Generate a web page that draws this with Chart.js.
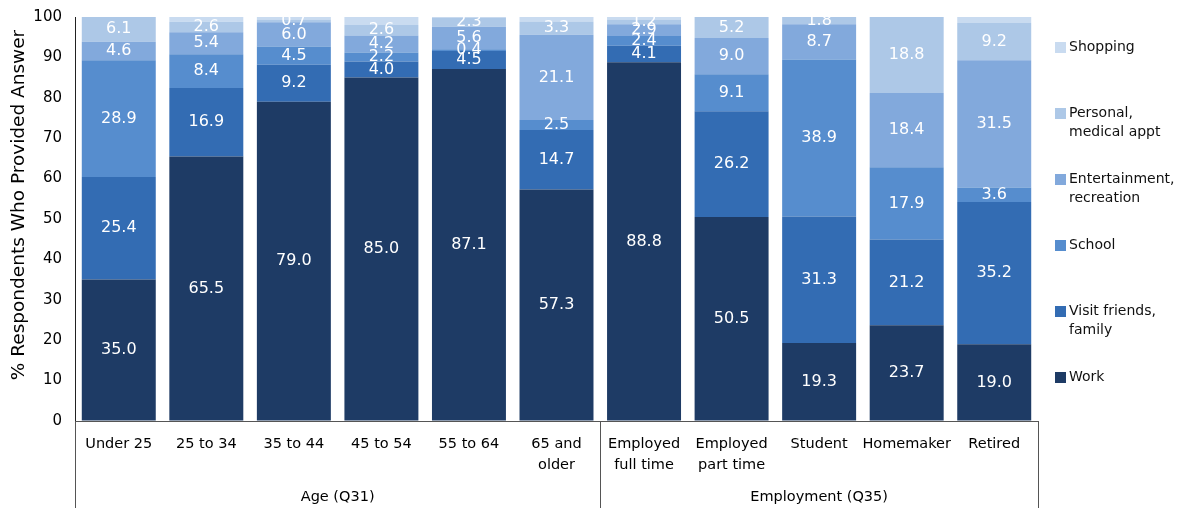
<!DOCTYPE html>
<html>
<head>
<meta charset="utf-8">
<script src="https://cdn.jsdelivr.net/npm/chart.js@4.4.1/dist/chart.umd.min.js"></script>
<style>
  html, body { margin: 0; padding: 0; background: #fff; }
  #wrap { width: 1185px; height: 508px; position: relative; }
</style>
</head>
<body>
<div id="wrap"><canvas id="chart"></canvas></div>
<script>
// categories (multi-line tick labels)
const categories = [
  ['Under 25'], ['25 to 34'], ['35 to 44'], ['45 to 54'], ['55 to 64'], ['65 and', 'older'],
  ['Employed', 'full time'], ['Employed', 'part time'], ['Student'], ['Homemaker'], ['Retired']
];
const groups = ['Age (Q31)', 'Employment (Q35)'];
const groupSizes = [6, 5];

// series, bottom to top
const work          = [35.0, 65.5, 79.0, 85.0, 87.1, 57.3, 88.8, 50.5, 19.3, 23.7, 19.0];
const visit         = [25.4, 16.9,  9.2,  4.0,  4.5, 14.7,  4.1, 26.2, 31.3, 21.2, 35.2];
const school        = [28.9,  8.4,  4.5,  2.2,  0.4,  2.5,  2.4,  9.1, 38.9, 17.9,  3.6];
const entertainment = [ 4.6,  5.4,  6.0,  4.2,  5.6, 21.1,  2.9,  9.0,  8.7, 18.4, 31.5];
const personal      = [ 6.1,  2.6,  0.7,  2.6,  2.3,  3.3,  1.2,  5.2,  1.8, 18.8,  9.2];
const shopping      = [ 0.0,  1.2,  0.6,  2.0,  0.1,  1.1,  0.6,  0.0,  0.0,  0.0,  1.5];

const seriesNames = ['Work', 'Visit friends, family', 'School', 'Entertainment, recreation', 'Personal, medical appt', 'Shopping'];
const legendLines = [['Work'], ['Visit friends,', 'family'], ['School'], ['Entertainment,', 'recreation'], ['Personal,', 'medical appt'], ['Shopping']];
const yTicks = [0, 10, 20, 30, 40, 50, 60, 70, 80, 90, 100];
const yTitle = '% Respondents Who Provided Answer';

const colors = ['#1e3b65', '#336cb3', '#568dce', '#82a9dc', '#adc8e7', '#c9dbf0'];
const seriesData = [work, visit, school, entertainment, personal, shopping];
const FONT = "'DejaVu Sans', sans-serif";

// white value labels inside the segments (shopping not labelled)
const valueLabels = {
  id: 'valueLabels',
  afterDatasetsDraw(chart) {
    const ctx = chart.ctx, area = chart.chartArea;
    ctx.save();
    ctx.beginPath();
    ctx.rect(area.left, area.top, area.right - area.left, area.bottom - area.top);
    ctx.clip();
    ctx.font = '16px ' + FONT;
    ctx.fillStyle = '#ffffff';
    ctx.textAlign = 'center';
    ctx.textBaseline = 'middle';
    chart.data.datasets.forEach((ds, i) => {
      if (i === 5) return;
      chart.getDatasetMeta(i).data.forEach((bar, j) => {
        const v = ds.data[j];
        if (!v) return;
        ctx.fillText(v.toFixed(1), bar.x, (bar.y + bar.base) / 2);
      });
    });
    ctx.restore();
  }
};

// group brackets under the axis, y title and custom legend
const extras = {
  id: 'extras',
  afterDraw(chart) {
    const ctx = chart.ctx, area = chart.chartArea, x = chart.scales.x;
    const h = chart.height;
    ctx.save();
    ctx.strokeStyle = '#555';
    ctx.lineWidth = 1;
    let start = 0;
    const edges = [area.left];
    groups.forEach((g, k) => {
      const end = start + groupSizes[k] - 1;
      const right = end === categories.length - 1 ? area.right
        : (x.getPixelForValue(end) + x.getPixelForValue(end + 1)) / 2;
      edges.push(right);
      ctx.font = '14.5px ' + FONT;
      ctx.fillStyle = '#000';
      ctx.textAlign = 'center';
      ctx.textBaseline = 'middle';
      ctx.fillText(g, (edges[k] + right) / 2, 497);
      start = end + 1;
    });
    edges.forEach(e => {
      const px = Math.round(e) + 0.5;
      ctx.beginPath();
      ctx.moveTo(px, area.bottom);
      ctx.lineTo(px, h);
      ctx.stroke();
    });

    // rotated y title
    ctx.save();
    ctx.translate(19, 205);
    ctx.rotate(-Math.PI / 2);
    ctx.font = '18.5px ' + FONT;
    ctx.fillStyle = '#000';
    ctx.textAlign = 'center';
    ctx.textBaseline = 'middle';
    ctx.fillText(yTitle, 0, 0);
    ctx.restore();

    // legend, top entry = top of stack
    const lx = area.right + 17;
    let ly = area.top + 30;
    ctx.font = '14px ' + FONT;
    ctx.textAlign = 'left';
    ctx.textBaseline = 'middle';
    for (let i = 5; i >= 0; i--) {
      ctx.fillStyle = colors[i];
      ctx.fillRect(lx, ly - 5, 11, 11);
      ctx.fillStyle = '#111';
      legendLines[i].forEach((t, n) => ctx.fillText(t, lx + 14, ly + n * 19));
      ly += 66;
    }
    ctx.restore();
  }
};

new Chart(document.getElementById('chart'), {
  type: 'bar',
  data: {
    labels: categories,
    datasets: seriesData.map((d, i) => ({
      label: seriesNames[i],
      data: d,
      backgroundColor: colors[i],
      borderWidth: 0,
      barPercentage: 0.845,
      categoryPercentage: 1.0
    }))
  },
  options: {
    responsive: true,
    maintainAspectRatio: false,
    animation: false,
    layout: { padding: { top: 17, right: 147, left: 0, bottom: 0 } },
    plugins: {
      legend: { display: false },
      tooltip: { enabled: false }
    },
    scales: {
      x: {
        stacked: true,
        grid: { display: false, drawTicks: false },
        border: { display: true, color: '#555', width: 1 },
        ticks: {
          color: '#000',
          font: { family: FONT, size: 14.5, lineHeight: 1.5 },
          padding: 12,
          maxRotation: 0,
          autoSkip: false
        },
        afterFit(scale) { scale.height = 87; }
      },
      y: {
        stacked: true,
        min: 0,
        max: 100,
        afterBuildTicks(scale) { scale.ticks = yTicks.map(v => ({ value: v })); },
        // invisible tick marks keep the labels off the axis without extra top padding
        grid: {
          display: true,
          drawOnChartArea: false,
          drawTicks: true,
          tickLength: 9,
          color: 'rgba(0,0,0,0)',
          tickColor: 'rgba(0,0,0,0)'
        },
        border: { display: true, color: '#222', width: 1 },
        ticks: {
          color: '#000',
          font: { family: FONT, size: 15 },
          padding: 4
        },
        afterFit(scale) { scale.width = 75; }
      }
    }
  },
  plugins: [valueLabels, extras]
});
</script>
</body>
</html>
